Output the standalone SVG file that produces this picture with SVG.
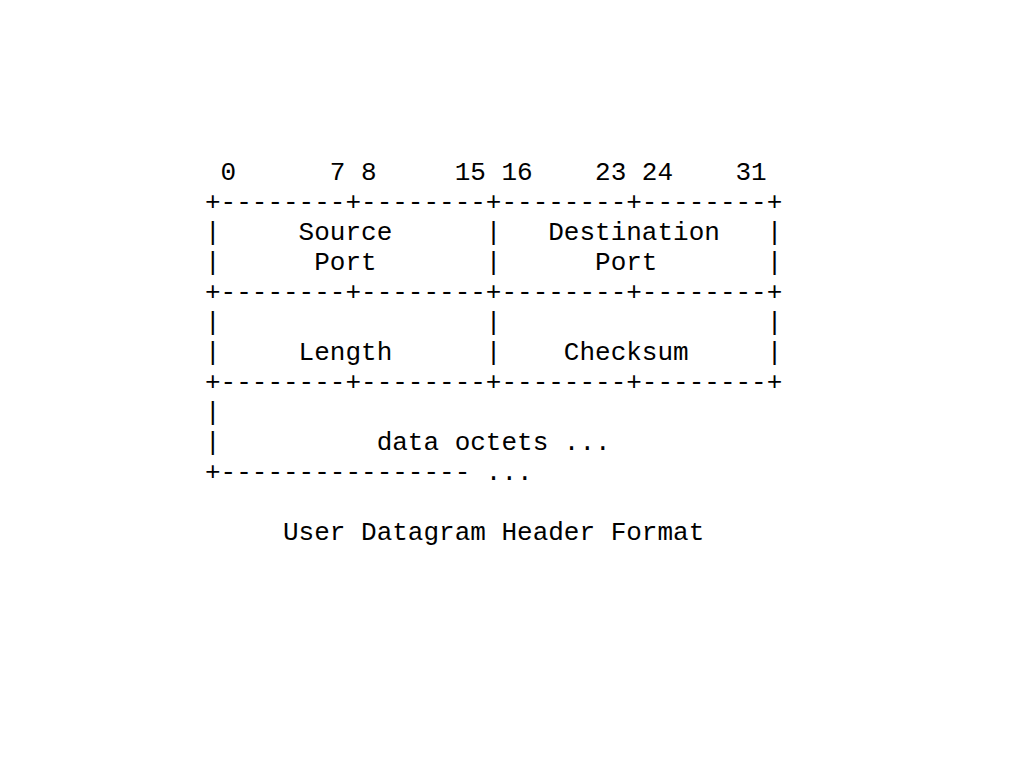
<svg xmlns="http://www.w3.org/2000/svg" width="1024" height="768" viewBox="0 0 1024 768">
<style>
text{font-family:"Liberation Mono","Courier New",monospace;font-size:26px;fill:#000;white-space:pre}
</style>
<rect width="1024" height="768" fill="#fff"/>
<g id="diagram" xml:space="preserve">
<text x="205" y="180"> 0      7 8     15 16    23 24    31</text>
<text x="205" y="210">+--------+--------+--------+--------+</text>
<text x="205" y="240">|     Source      |   Destination   |</text>
<text x="205" y="270">|      Port       |      Port       |</text>
<text x="205" y="300">+--------+--------+--------+--------+</text>
<text x="205" y="330">|                 |                 |</text>
<text x="205" y="360">|     Length      |    Checksum     |</text>
<text x="205" y="390">+--------+--------+--------+--------+</text>
<text x="205" y="420">|</text>
<text x="205" y="450">|          data octets ...</text>
<text x="205" y="480">+---------------- ...</text>
<text x="205" y="540">     User Datagram Header Format</text>
</g>
</svg>
